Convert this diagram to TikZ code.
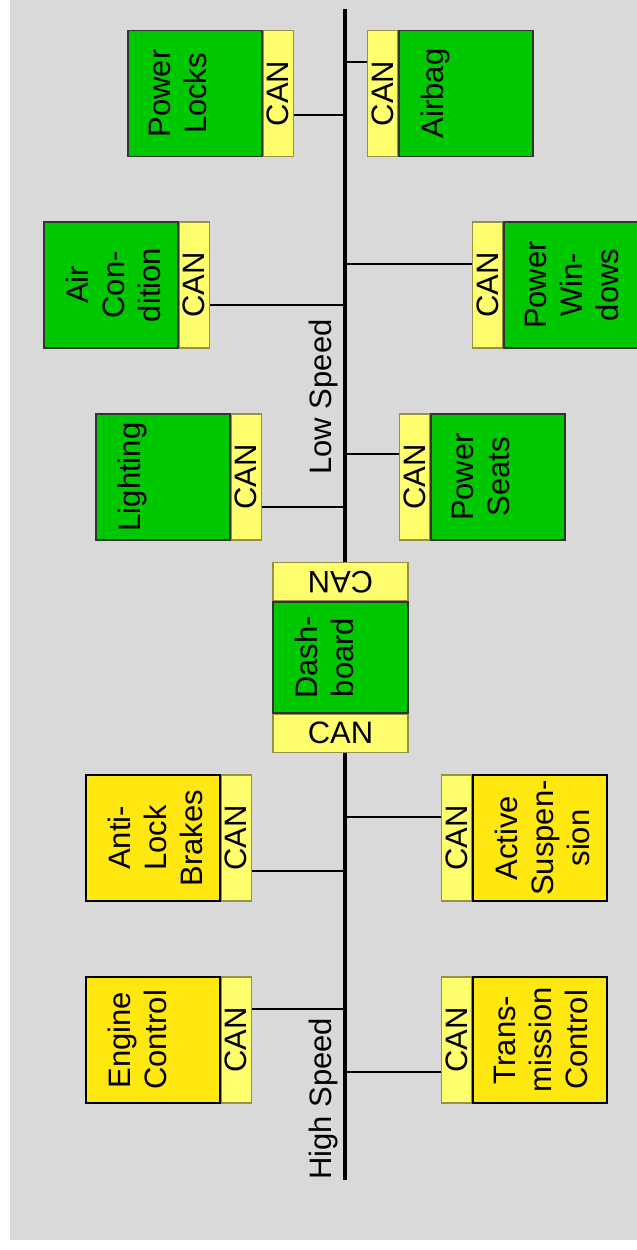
\documentclass[tikz,border=0pt]{standalone}
\usepackage{fontspec}
\setmainfont{Liberation Sans}
\usepackage{tikz}
\usetikzlibrary{calc}
\definecolor{ecugreen}{RGB}{0,200,0}
\definecolor{ecuyellow}{RGB}{255,232,16}
\definecolor{canyellow}{RGB}{255,255,110}
\definecolor{canedge}{RGB}{150,145,70}
\definecolor{bggray}{RGB}{217,217,217}
\begin{document}
\begin{tikzpicture}[x=1pt, y=-1pt,
    font=\fontsize{31}{36}\selectfont,
    lowecu/.style={draw=black!80, line width=1.2pt, fill=ecugreen, rotate=90, minimum width=126pt, minimum height=134pt, inner sep=0pt},
    highecu/.style={lowecu, fill=ecuyellow, draw=black},
    canbox/.style={draw=canedge, line width=1.2pt, fill=canyellow, rotate=90, minimum width=126pt, minimum height=30pt, inner sep=0pt},
    dbbox/.style={draw=black!80, line width=1.2pt, fill=ecugreen, minimum width=135pt, minimum height=111pt, inner sep=0pt},
    dbcan/.style={draw=canedge, line width=1.2pt, fill=canyellow, minimum width=135pt, minimum height=38pt, inner sep=0pt},
    ecutext/.style={rotate=90, align=center, inner xsep=0pt, inner ysep=22pt},
    speed/.style={rotate=90, inner sep=0pt},
    bus/.style={line width=4pt},
    tap/.style={line width=1.6pt}]
  \fill[bggray] (10,0) rectangle (637,1240);
  \useasboundingbox (0,0) rectangle (637,1250);

  \node[lowecu] (pl) at (195,93.5) {};
  \node[canbox, anchor=north] (plcan) at (pl.south) {CAN};
  \node[ecutext, anchor=north] at (pl.north) {Power\\Locks};
  \node[lowecu] (ac) at (111,285) {};
  \node[canbox, anchor=north] (accan) at (ac.south) {CAN};
  \node[ecutext, anchor=north] at (ac.north) {Air\\Con-\\dition};
  \node[lowecu] (li) at (163,477) {};
  \node[canbox, anchor=north] (lican) at (li.south) {CAN};
  \node[ecutext, anchor=north] at (li.north) {Lighting};
  \node[lowecu] (ab) at (466,93.5) {};
  \node[canbox, anchor=south] (abcan) at (ab.north) {CAN};
  \node[ecutext, anchor=north] at (ab.north) {Airbag};
  \node[lowecu] (pw) at (571,285) {};
  \node[canbox, anchor=south] (pwcan) at (pw.north) {CAN};
  \node[ecutext, anchor=north] at (pw.north) {Power\\Win-\\dows};
  \node[lowecu] (ps) at (498,477) {};
  \node[canbox, anchor=south] (pscan) at (ps.north) {CAN};
  \node[ecutext, anchor=north] at (ps.north) {Power\\Seats};

  \node[dbbox] (db) at (340.5,657.5) {};
  \node[dbcan, rotate=180, anchor=north] (dbtop) at (db.north) {CAN};
  \node[dbcan, anchor=north] (dbbot) at (db.south) {CAN};
  \node[ecutext, anchor=north] at (db.west) {Dash-\\board};

  \node[highecu] (alb) at (153,838) {};
  \node[canbox, anchor=north] (albcan) at (alb.south) {CAN};
  \node[ecutext, anchor=north] at (alb.north) {Anti-\\Lock\\Brakes};
  \node[highecu] (asp) at (540,838) {};
  \node[canbox, anchor=south] (aspcan) at (asp.north) {CAN};
  \node[ecutext, anchor=north] at (asp.north) {Active\\Suspen-\\sion};
  \node[highecu] (eng) at (153,1040) {};
  \node[canbox, anchor=north] (engcan) at (eng.south) {CAN};
  \node[ecutext, anchor=north] at (eng.north) {Engine\\Control};
  \node[highecu] (trm) at (540,1040) {};
  \node[canbox, anchor=south] (trmcan) at (trm.north) {CAN};
  \node[ecutext, anchor=north] at (trm.north) {Trans-\\mission\\Control};

  \coordinate (bustop) at (345,9);
  \coordinate (busbot) at (345,1180);
  \draw[bus] (bustop) -- (bustop |- dbtop.south);
  \draw[bus] (busbot |- dbbot.south) -- (busbot);

  \coordinate (tpl) at (345,115);
  \coordinate (tac) at (345,305);
  \coordinate (tli) at (345,507);
  \coordinate (tab) at (345,62);
  \coordinate (tpw) at (345,264);
  \coordinate (tps) at (345,454);
  \coordinate (talb) at (345,871);
  \coordinate (tasp) at (345,817);
  \coordinate (teng) at (345,1009);
  \coordinate (ttrm) at (345,1072);
  \draw[tap] (tpl) -- (tpl -| plcan.south);
  \draw[tap] (tac) -- (tac -| accan.south);
  \draw[tap] (tli) -- (tli -| lican.south);
  \draw[tap] (tab) -- (tab -| abcan.north);
  \draw[tap] (tpw) -- (tpw -| pwcan.north);
  \draw[tap] (tps) -- (tps -| pscan.north);
  \draw[tap] (talb) -- (talb -| albcan.south);
  \draw[tap] (tasp) -- (tasp -| aspcan.north);
  \draw[tap] (teng) -- (teng -| engcan.south);
  \draw[tap] (ttrm) -- (ttrm -| trmcan.north);

  \node[speed, anchor=base] (lowspeed) at (331,397) {Low Speed};
  \node[speed, anchor=base west] (highspeed) at ([xshift=-14pt]busbot) {High Speed};
\end{tikzpicture}
\end{document}
